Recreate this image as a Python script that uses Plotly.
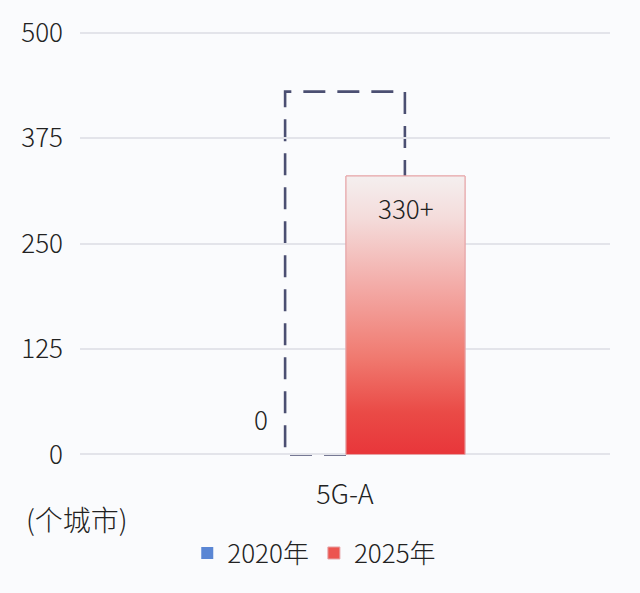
import plotly.graph_objects as go

categories = ["5G-A"]
series_names = ["2020年", "2025年"]
values_2020 = [0]
values_2025 = [330]
target_outline = [430]
y_ticks = [0, 125, 250, 375, 500]
unit_label = "(个城市)"

FONT = "Noto Sans CJK SC, Noto Sans, sans-serif"
TEXT = "#222222"
BG = "#fafbfd"
FS = 26

# bar geometry (in category-axis units)
w = 0.2245
off_2020 = -0.2705
off_2025 = 0.0019
box_half = 0.113

x_idx = list(range(len(categories)))

fig = go.Figure()

fig.add_trace(go.Bar(
    x=x_idx, y=values_2020, name=series_names[0],
    offset=off_2020, width=w,
    marker=dict(color="#5a86d4", line=dict(width=0)),
    hoverinfo="skip",
))
fig.add_trace(go.Bar(
    x=x_idx, y=values_2025, name=series_names[1],
    offset=off_2025, width=w,
    marker=dict(color="#ec5550", line=dict(color="#e6a3a6", width=1)),
    hoverinfo="skip",
))

# gradient overlay for the 2025 bar, built from the same value and bar geometry
for xi, v in zip(x_idx, values_2025):
    x0 = xi + off_2025
    x1 = x0 + w
    fig.add_trace(go.Scatter(
        x=[x0, x0, x1, x1, x0], y=[0, v, v, 0, 0],
        mode="lines", fill="toself",
        line=dict(color="#e6a3a6", width=1),
        fillgradient=dict(
            type="vertical",
            colorscale=[[0, "#e8363a"], [0.15, "#ea4a46"], [0.35, "#f07a70"],
                        [0.6, "#f3aaa6"], [0.85, "#f4dcdb"], [1, "#f4efef"]],
        ),
        showlegend=False, hoverinfo="skip",
    ))

# dashed outline (bottom edge stops where the 2025 bar begins)
for xi, t in zip(x_idx, target_outline):
    bx0 = xi - box_half
    bx1 = xi + box_half
    bar_left = xi + off_2025
    path = (f"M {bar_left},0 L {bx0},0 L {bx0},{t} L {bx1},{t} L {bx1},0")
    fig.add_shape(type="path", xref="x", yref="y", path=path,
                  line=dict(color="#4b4f72", width=2.6, dash="22px,12px"),
                  fillcolor="rgba(0,0,0,0)", layer="below")

# value labels
for xi, v in zip(x_idx, values_2020):
    fig.add_annotation(x=xi + off_2020 + w / 2, y=v, xref="x", yref="y",
                       text=str(v), showarrow=False, yshift=36,
                       font=dict(size=FS, color=TEXT, family=FONT, weight=300))
for xi, v in zip(x_idx, values_2025):
    fig.add_annotation(x=xi + off_2025 + w / 2, y=v, xref="x", yref="y",
                       text=f"{v}+", showarrow=False, yanchor="top", yshift=-11,
                       font=dict(size=FS, color=TEXT, family=FONT, weight=300))

fig.add_annotation(x=-0.105, y=-0.145, xref="paper", yref="paper",
                   text=unit_label, showarrow=False, xanchor="left", yanchor="middle",
                   font=dict(size=28, color=TEXT, family=FONT, weight=300))

fig.update_layout(
    width=640, height=593,
    margin=dict(l=80, r=30, t=26, b=136),
    paper_bgcolor=BG, plot_bgcolor=BG,
    font=dict(family=FONT, size=FS, color=TEXT, weight=300),
    showlegend=True,
    legend=dict(orientation="h", x=0.442, xanchor="center", y=-0.225, yanchor="middle",
                font=dict(size=FS, color=TEXT, family=FONT, weight=300), itemwidth=30,
                bgcolor="rgba(0,0,0,0)"),
    xaxis=dict(range=[-0.5, 0.5], tickvals=x_idx, ticktext=categories,
               showgrid=False, zeroline=False, showline=False, ticks="",
               ticklabelstandoff=19, fixedrange=True,
               tickfont=dict(size=27, color=TEXT, family=FONT, weight=300)),
    yaxis=dict(range=[-3, 503], tickvals=y_ticks, showgrid=True,
               gridcolor="#e3e4ea", gridwidth=1.5, zeroline=False, showline=False,
               ticks="", ticklabelstandoff=16, fixedrange=True),
)

fig.write_html("out.html", config={"displayModeBar": False},
               post_script="document.body.style.margin='0';")
